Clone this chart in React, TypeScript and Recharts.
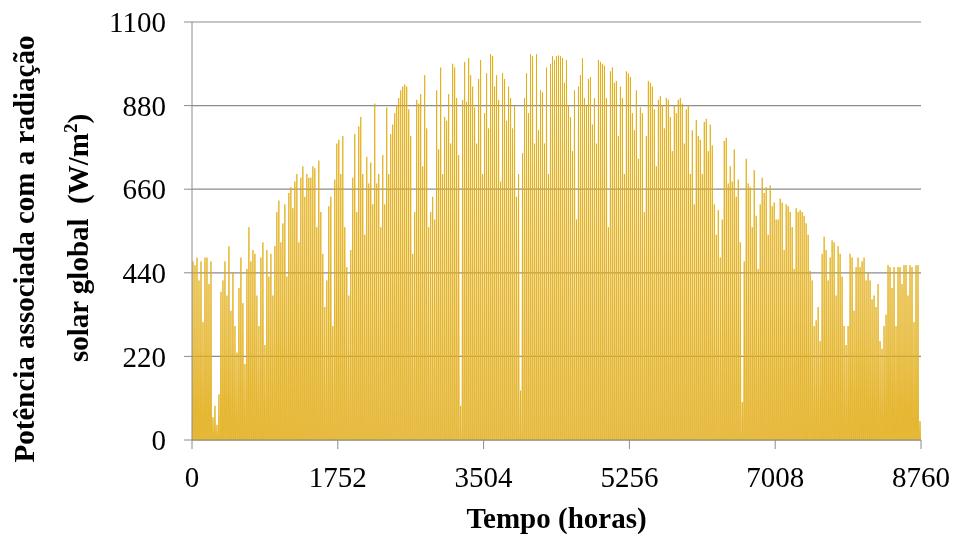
import { AreaChart, Area, XAxis, YAxis, CartesianGrid } from "recharts";

// daily peak of global solar radiation (W/m2)
const jan = [470, 460, 480, 420, 470, 310, 480, 480, 410, 470, 60, 90, 40, 120, 390, 420, 470, 380, 510, 340, 440, 300, 230, 400, 480, 360, 200, 450, 560, 470, 500];
const feb = [490, 380, 300, 480, 520, 250, 500, 430, 490, 380, 510, 600, 630, 520, 570, 620, 430, 650, 665, 610, 680, 700, 520, 690, 720, 640, 700, 690];
const mar = [690, 720, 715, 560, 735, 600, 490, 350, 420, 615, 640, 300, 685, 780, 790, 700, 800, 560, 455, 380, 500, 690, 805, 600, 825, 850, 700, 540, 745, 675, 730];
const apr = [620, 885, 675, 700, 560, 750, 620, 875, 700, 805, 830, 860, 880, 900, 920, 930, 935, 930, 870, 800, 490, 600, 895, 885, 910, 720, 960, 820, 560, 600];
const may = [640, 580, 920, 765, 980, 700, 850, 840, 910, 780, 990, 980, 900, 750, 90, 895, 995, 890, 1005, 960, 930, 875, 780, 950, 1000, 700, 860, 965, 820, 1015, 1010];
const jun = [930, 960, 895, 680, 965, 950, 840, 930, 900, 820, 880, 640, 700, 130, 755, 900, 965, 860, 1015, 1010, 780, 1015, 815, 920, 915, 780, 980, 700, 990, 1010];
const jul = [1000, 1010, 1012, 1010, 1005, 940, 1000, 880, 850, 760, 920, 580, 930, 960, 1005, 900, 880, 950, 955, 830, 900, 780, 1000, 995, 990, 985, 900, 560, 970, 980, 940];
const aug = [945, 800, 930, 900, 700, 970, 965, 955, 860, 815, 920, 740, 875, 860, 600, 800, 945, 940, 930, 870, 720, 895, 905, 880, 820, 900, 895, 850, 760, 880, 860];
const sep = [895, 900, 885, 780, 870, 880, 700, 815, 620, 842, 800, 790, 700, 837, 845, 760, 830, 775, 620, 540, 605, 480, 580, 787, 795, 675, 720, 680, 765, 640];
const oct = [685, 520, 100, 470, 740, 675, 665, 560, 710, 590, 450, 620, 690, 650, 665, 540, 670, 615, 625, 580, 580, 635, 625, 500, 620, 615, 600, 560, 450, 610, 600];
const nov = [605, 600, 590, 570, 540, 445, 420, 300, 315, 350, 260, 490, 535, 500, 420, 480, 525, 520, 380, 510, 490, 430, 300, 250, 300, 490, 480, 340, 455, 480];
const dec = [455, 470, 480, 420, 440, 420, 370, 380, 350, 410, 260, 240, 300, 330, 460, 455, 400, 455, 300, 455, 455, 410, 460, 460, 380, 460, 455, 310, 460, 460, 50];

const xTicks = [0, 1752, 3504, 5256, 7008, 8760];
const yTicks = [0, 220, 440, 660, 880, 1100];

// hours of the day: sunrise, solar noon, sunset
const sunrise = 5;
const noon = 12;
const sunset = 19;

const peaks = [...jan, ...feb, ...mar, ...apr, ...may, ...jun, ...jul, ...aug, ...sep, ...oct, ...nov, ...dec];
const data = peaks.flatMap((p, d) => [
  { t: d * 24 + sunrise, v: 0 },
  { t: d * 24 + noon, v: p },
  { t: d * 24 + sunset, v: 0 },
]);

const font = "'Liberation Serif', 'Times New Roman', serif";
const gray = "#8c8c8c";

function YTitle(props: any) {
  const { x, y, height } = props.viewBox;
  const cy = y + height / 2;
  return (
    <g fontFamily={font} fontWeight="bold" fontSize={29} fill="#000">
      <text transform={`translate(${x + 34},${cy + 18}) rotate(-90)`} textAnchor="middle">
        Potência associada com a radiação
      </text>
      <text transform={`translate(${x + 88},${cy + 7}) rotate(-90)`} textAnchor="middle">
        solar global{"\u00A0 "}(W/m
        <tspan dy={-11} fontSize={19}>2</tspan>
        <tspan dy={11}>)</tspan>
      </text>
    </g>
  );
}

function XTitle(props: any) {
  const { x, y, width } = props.viewBox;
  return (
    <text x={x + width / 2} y={y + 88} textAnchor="middle" fontFamily={font} fontWeight="bold" fontSize={29} fill="#000">
      Tempo (horas)
    </text>
  );
}

export default function App() {
  return (
    <div style={{ position: "fixed", left: 0, top: 0, width: 957, height: 537 }}>
      <AreaChart width={957} height={537} data={data} margin={{ top: 22, right: 36, left: 0, bottom: 0 }}>
        <CartesianGrid vertical={false} stroke={gray} strokeWidth={1.2} />
        <XAxis
          dataKey="t"
          type="number"
          domain={[0, 8760]}
          ticks={xTicks}
          interval={0}
          height={97}
          tickSize={9}
          tickMargin={17}
          stroke={gray}
          tick={{ fill: "#000", fontSize: 29, fontFamily: font }}
          label={{ content: XTitle }}
        />
        <YAxis
          type="number"
          domain={[0, 1100]}
          ticks={yTicks}
          interval={0}
          width={192}
          tickSize={8}
          tickMargin={18}
          stroke={gray}
          tick={{ fill: "#000", fontSize: 29, fontFamily: font }}
          label={{ content: YTitle }}
        />
        <Area
          type="linear"
          dataKey="v"
          stroke="#E1AB0C"
          strokeWidth={0.8}
          fill="#ECCB88"
          fillOpacity={1}
          dot={false}
          activeDot={false}
          isAnimationActive={false}
        />
      </AreaChart>
    </div>
  );
}
